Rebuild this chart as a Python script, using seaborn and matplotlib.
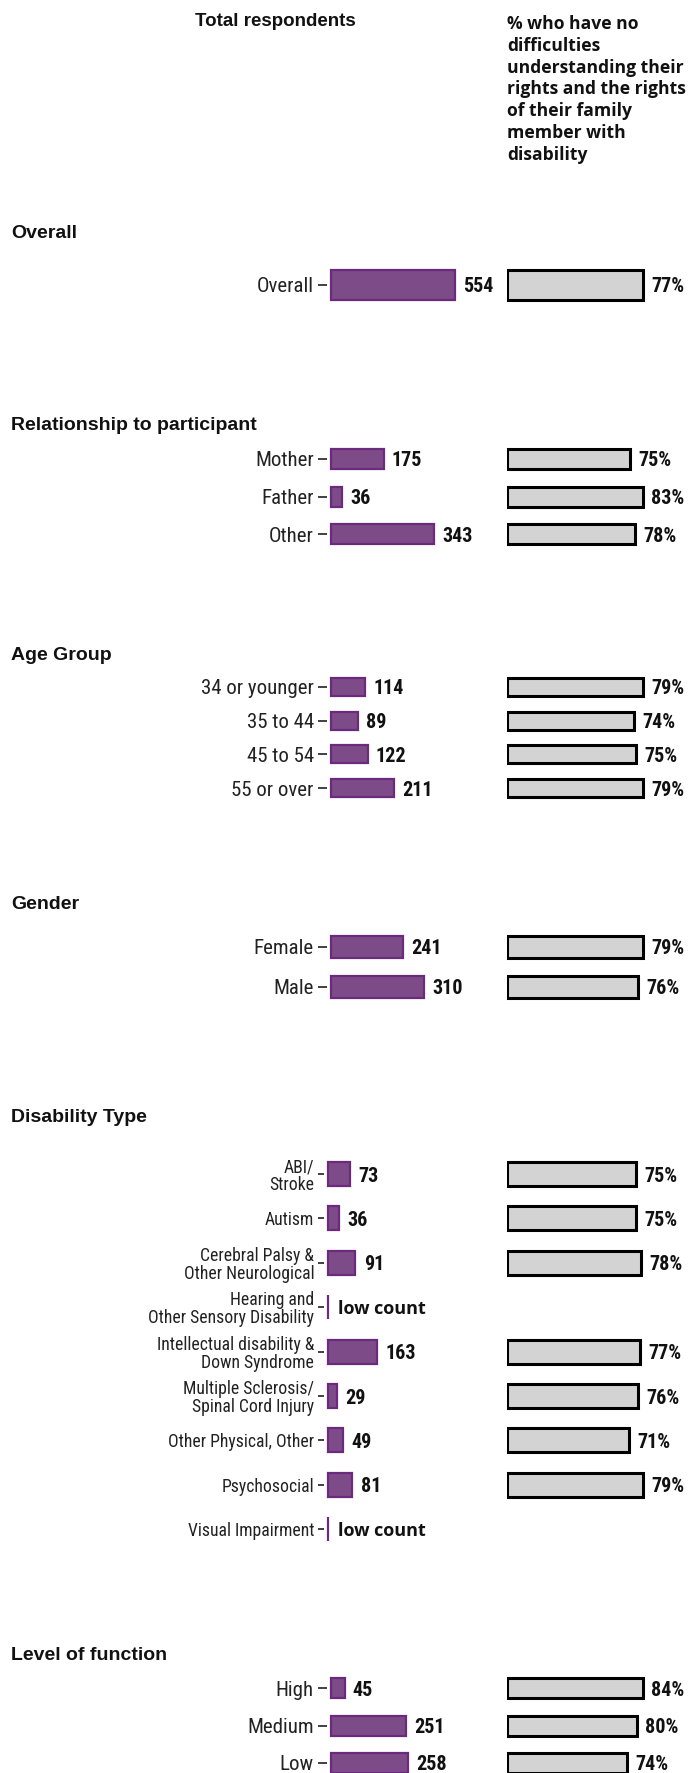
import numpy as np
import pandas as pd
import matplotlib
matplotlib.use("Agg")
import matplotlib.pyplot as plt
from matplotlib import font_manager
import seaborn as sns

# ---- data -------------------------------------------------------------
overall_labels = ["Overall"]
overall_n = [554]
overall_pct = [77]

relationship_labels = ["Mother", "Father", "Other"]
relationship_n = [175, 36, 343]
relationship_pct = [75, 83, 78]

age_labels = ["34 or younger", "35 to 44", "45 to 54", "55 or over"]
age_n = [114, 89, 122, 211]
age_pct = [79, 74, 75, 79]

gender_labels = ["Female", "Male"]
gender_n = [241, 310]
gender_pct = [79, 76]

disability_labels = [
    "ABI/\nStroke",
    "Autism",
    "Cerebral Palsy &\nOther Neurological",
    "Hearing and\nOther Sensory Disability",
    "Intellectual disability &\nDown Syndrome",
    "Multiple Sclerosis/\nSpinal Cord Injury",
    "Other Physical, Other",
    "Psychosocial",
    "Visual Impairment",
]
disability_n = [73, 36, 91, np.nan, 163, 29, 49, 81, np.nan]
disability_pct = [75, 75, 78, np.nan, 77, 76, 71, 79, np.nan]

level_labels = ["High", "Medium", "Low"]
level_n = [45, 251, 258]
level_pct = [84, 80, 74]

LOW_COUNT = "low count"
LEFT_HEADER = "Total respondents"
RIGHT_HEADER = ("% who have no\ndifficulties\nunderstanding their\nrights and the rights\n"
                "of their family\nmember with\ndisability")

# ---- style ------------------------------------------------------------
sns.set_theme(style="white")
plt.rcParams["font.family"] = ["Liberation Sans", "DejaVu Sans"]

# pick a condensed face for tick and value labels when one is available
_fonts = font_manager.fontManager.ttflist
_names = {f.name for f in _fonts}
NARROW = dict(family="Liberation Sans", stretch="normal")
for cand in ["Liberation Sans Narrow", "Roboto Condensed", "Arial Narrow",
             "Open Sans Condensed", "Noto Sans Condensed"]:
    if cand in _names:
        NARROW = dict(family=cand, stretch="normal")
        break
else:
    for fam in ["Roboto", "Noto Sans", "Open Sans", "DejaVu Sans"]:
        if any(f.name == fam and f.stretch in ("condensed", "semi-condensed", 75, 87.5)
               for f in _fonts):
            NARROW = dict(family=fam, stretch="condensed")
            break

PURPLE = "#7d4b87"
PURPLE_EDGE = "#6c2a7e"
GREY = "#d3d3d3"
TXT = "#111111"

W, H = 690, 1773
fig = plt.figure(figsize=(W / 100, H / 100), dpi=100)
fig.patch.set_facecolor("white")

LEFT_W = 165   # pixel width of the count panel from the bar baseline
AXIS_GAP = 4   # pixels between the axis line (ticks) and the bar baseline


def px_axes(x, y_top, w, h):
    return fig.add_axes([x / W, 1 - (y_top + h) / H, w / W, h / H])


def clean(ax):
    for s in ax.spines.values():
        s.set_visible(False)
    ax.set_xlabel("")
    ax.set_ylabel("")
    ax.set_xticks([])
    ax.patch.set_alpha(0)


def draw_section(title, title_y, labels, n, pct, first_y, step, bar_px,
                 left_x0, left_max, tick_size, tick_len=6.5, spacing=1.0):
    k = len(labels)
    top = first_y - step / 2
    h = step * k
    frac = bar_px / step
    df = pd.DataFrame({"label": labels, "n": n, "pct": pct})
    df["n_bar"] = df["n"].fillna(0)

    fig.text(11 / W, 1 - title_y / H, title, ha="left", va="center",
             fontsize=14, fontweight="bold", color=TXT)

    # counts
    per_px = left_max / LEFT_W
    axl = px_axes(left_x0 - AXIS_GAP, top, LEFT_W + AXIS_GAP, h)
    sns.barplot(data=df, x="n_bar", y="label", order=labels, orient="h",
                color=PURPLE, saturation=1, edgecolor=PURPLE_EDGE,
                linewidth=1.6, width=frac, ax=axl)
    axl.set_xlim(-AXIS_GAP * per_px, left_max)
    axl.set_ylim(k - 0.5, -0.5)
    clean(axl)
    axl.tick_params(axis="y", length=tick_len, width=1.3, color="#333333", pad=3,
                    left=True, labelsize=tick_size, labelcolor="#222222")
    for lab in axl.get_yticklabels():
        lab.set_family(NARROW["family"])
        lab.set_stretch(NARROW["stretch"])
        if "\n" in lab.get_text():
            lab.set_linespacing(spacing)
    for i, v in enumerate(df["n"]):
        if np.isnan(v):
            axl.annotate(LOW_COUNT, (0, i), xytext=(7, 0), textcoords="offset points",
                         ha="left", va="center_baseline", fontsize=13, fontweight="bold",
                         family=["Open Sans", "DejaVu Sans"], color=TXT)
        else:
            axl.annotate(f"{int(v)}", (v, i), xytext=(6, 0), textcoords="offset points",
                         ha="left", va="center_baseline", fontsize=14.5, fontweight="bold",
                         family=NARROW["family"], stretch=NARROW["stretch"], color=TXT)

    # percentages
    axr = px_axes(507, top, 183, h)
    sns.barplot(data=df, x="pct", y="label", order=labels, orient="h",
                color=GREY, saturation=1, edgecolor="black", linewidth=2.2,
                width=frac, ax=axr)
    axr.set_xlim(0, np.nanmax(df["pct"]) * 183 / 136)
    axr.set_ylim(k - 0.5, -0.5)
    clean(axr)
    axr.set_yticks([])
    for i, v in enumerate(df["pct"]):
        if not np.isnan(v):
            axr.annotate(f"{int(v)}%", (v, i), xytext=(6, 0), textcoords="offset points",
                         ha="left", va="center_baseline", fontsize=14.5, fontweight="bold",
                         family=NARROW["family"], stretch=NARROW["stretch"], color=TXT)


# headers
fig.text(275 / W, 1 - 21 / H, LEFT_HEADER, ha="center", va="center",
         fontsize=13.5, fontweight="bold", color=TXT)
fig.text(507 / W, 1 - 15 / H, RIGHT_HEADER, ha="left", va="top",
         fontsize=12.6, fontweight="bold", color=TXT, linespacing=1.27,
         family=["Open Sans", "DejaVu Sans"])

draw_section("Overall", 233, overall_labels, overall_n, overall_pct,
             285, 50, 30, 331, 737, 15)
draw_section("Relationship to participant", 425, relationship_labels, relationship_n,
             relationship_pct, 459, 37.5, 20, 331, 550, 15)
draw_section("Age Group", 655, age_labels, age_n, age_pct,
             687, 33.7, 18, 331, 550, 15)
draw_section("Gender", 905, gender_labels, gender_n, gender_pct,
             947, 40, 22, 331, 550, 15)
draw_section("Disability Type", 1117, disability_labels, disability_n, disability_pct,
             1174, 44.4, 24, 328, 550, 12.7, tick_len=4, spacing=1.0)
draw_section("Level of function", 1655, level_labels, level_n, level_pct,
             1688, 37.5, 20, 331, 550, 15)

fig.savefig("out.png", dpi=100, facecolor="white")
